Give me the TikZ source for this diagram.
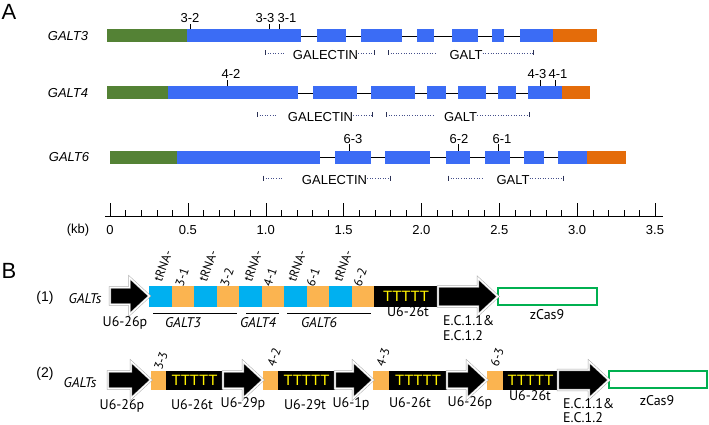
\documentclass[tikz,border=0pt]{standalone}
\usepackage{fontspec}
\setmainfont{Liberation Sans}
\newfontfamily\ptsans{PT Sans}
\usetikzlibrary{calc}

\definecolor{exongreen}{RGB}{84,130,53}
\definecolor{exonblue}{RGB}{59,108,245}
\definecolor{exonorange}{RGB}{228,108,10}
\definecolor{trnacyan}{RGB}{0,176,240}
\definecolor{sgorange}{RGB}{251,180,80}
\definecolor{casgreen}{RGB}{0,176,80}
\definecolor{dotblue}{RGB}{70,80,140}

% block arrow: from, to, half shaft height
\newcommand{\promarrow}[3]{%
  \path[blockarr] let \p1=#1, \p2=#2 in
    ({\x1},{\y1+#3}) -- ({\x2-20pt},{\y1+#3}) -- ({\x2-20pt},{\y1+18.5pt})
    -- ({\x2},{\y1}) -- ({\x2-20pt},{\y1-18.5pt}) -- ({\x2-20pt},{\y1-#3})
    -- ({\x1},{\y1-#3}) -- cycle;}

\begin{document}
\begin{tikzpicture}[x=1pt,y=-1pt,font=\fontsize{13}{15}\selectfont,
  lab/.style={inner sep=0pt},
  gname/.style={inner sep=0pt,font=\fontsize{13}{15}\selectfont\itshape},
  dotline/.style={dotted,dotblue,line width=0.6pt},
  blab/.style={inner sep=0pt,font=\ptsans\fontsize{14}{15}\selectfont},
  bital/.style={inner sep=0pt,font=\ptsans\itshape\fontsize{14}{15}\selectfont},
  rlab/.style={inner sep=0pt,rotate=70,font=\ptsans\fontsize{12.5}{14}\selectfont},
  seg/.style={minimum height=21pt,inner sep=0pt,outer sep=0pt},
  term/.style={fill=black,text=yellow,inner sep=0pt,outer sep=0pt,font=\fontsize{15}{17}\selectfont},
  cas/.style={draw=casgreen,line width=1.5pt,inner sep=0pt,outer sep=0pt},
  blockarr/.style={draw=gray!70,double=white,double distance=1.4pt,line width=0.5pt,fill=black,line join=miter}]
  \useasboundingbox (0,0) rectangle (709,425);

  \node[font=\fontsize{22}{24}\selectfont,inner sep=0pt] (pa) at (9,12) {A};
  \node[font=\fontsize{22}{24}\selectfont,inner sep=0pt] (pb) at (9,271) {B};

  % GALT3
  \node[gname] (n3) at (68,36) {GALT3};
  \draw (301,36) -- (520,36);
  \fill[exongreen] (107,29.5) rectangle (187,42.5);
  \foreach \a/\b in {187/301,317/346,361/402,417/434,452/478,492/504,520/553}
    \fill[exonblue] (\a,29.5) rectangle (\b,42.5);
  \fill[exonorange] (553,29.5) rectangle (597,42.5);
  \foreach \t/\lx/\lab in {190/190/3-2,269/265/3-3,279/287/3-1}
  {
    \draw (\t,29.5) -- (\t,24);
    \node[lab,anchor=base] (l\t) at (\lx,23) {\lab};
  }

  % GALT4
  \node[gname] (n4) at (68,93) {GALT4};
  \draw (298,93) -- (528,93);
  \fill[exongreen] (107,86.5) rectangle (168,99.5);
  \foreach \a/\b in {168/298,313/357,371/415,427/446,458/486,498/516,528/562}
    \fill[exonblue] (\a,86.5) rectangle (\b,99.5);
  \fill[exonorange] (562,86.5) rectangle (590,99.5);
  \foreach \t/\lx/\lab in {227/231/4-2,540/537/4-3,555/558/4-1}
  {
    \draw (\t,86.5) -- (\t,80);
    \node[lab,anchor=base] (l\t) at (\lx,79) {\lab};
  }

  % GALT6
  \node[gname] (n6) at (69,157) {GALT6};
  \draw (320,157) -- (558,157);
  \fill[exongreen] (110,150.5) rectangle (177,163.5);
  \foreach \a/\b in {177/320,335/371,385/430,446/470,485/510,524/544,558/587}
    \fill[exonblue] (\a,150.5) rectangle (\b,163.5);
  \fill[exonorange] (587,150.5) rectangle (626,163.5);
  \foreach \t/\lx/\lab in {349/353/6-3,458/459/6-2,498/502/6-1}
  {
    \draw (\t,150.5) -- (\t,144);
    \node[lab,anchor=base] (l\t) at (\lx,143) {\lab};
  }

  % domain spans
  \foreach \y/\a/\b/\gx/\c/\d/\e/\tx/\f [count=\k] in
    {53/265/285/325.5/374/388/435/466/533,
     115/257/277/320.5/372/386/433/460.5/529,
     178/263/283/334.5/390/448/484/513/563}
  {
    \node[lab] (gal\k) at (\gx,\y+2) {GALECTIN};
    \node[lab] (galt\k) at (\tx,\y+2) {GALT};
    \draw[dotline] (\a,\y) -- (\b,\y);
    \draw[dotline] (gal\k.east |- 0,\y) -- (\c,\y);
    \draw[dotline] (\d,\y) -- (\e,\y);
    \draw[dotline] (galt\k.east |- 0,\y) -- (\f,\y);
    \foreach \z in {\a,\c,\d,\f}
      \draw[dotblue!60!black,line width=0.7pt] (\z,\y-2.5) -- (\z,\y+2.5);
  }

  % kb scale
  \draw (105,216) -- (663,216);
  \foreach \i in {0,...,35}
  {
    \pgfmathsetmacro\h{mod(\i,5)==0 ? 13 : 6}
    \draw ({110+15.571*\i},216) -- ++(0,-\h);
  }
  \node[lab] (kb) at (78,230) {(kb)};
  \foreach \v [count=\k from 0] in {0,0.5,1.0,1.5,2.0,2.5,3.0,3.5}
    \node[lab] (kb\k) at ({110+77.857*\k},230) {\v};

  % construct (1)
  \node[inner sep=0pt,font=\fontsize{14}{16}\selectfont] (c1) at (45,298) {(1)};
  \node[bital] (gs1) at (85,299) {GALTs};
  \coordinate (p1) at (110,296);
  \foreach \i/\c in {0/trnacyan,1/sgorange,2/trnacyan,3/sgorange,4/trnacyan,
                     5/sgorange,6/trnacyan,7/sgorange,8/trnacyan,9/sgorange}
    \node[seg,fill=\c,minimum width=22.45pt] (r\i) at ({160.7+22.45*\i},296.5) {};
  \node[term,minimum width=64pt,minimum height=21pt] (t1) at (406,296.5) {TTTTT};
  \node[cas,minimum width=99pt,minimum height=17pt] (cas1) at (547.5,296.5) {};
  \promarrow{(p1)}{(r0.west)}{8.5pt}
  \promarrow{(t1.east)}{(cas1.west)}{10pt}
  \foreach \x/\nx/\lab [count=\k] in {163/182/3-1,208/227/3-2,253/270/4-1,297/313/6-1,343/360/6-2}
  {
    \node[rlab] (tr\k) at (\x,266) {tRNA-};
    \node[rlab] (tn\k) at (\nx,277) {\lab};
  }
  \node[blab] (lp1) at (125,323) {U6-26p};
  \node[bital] (lg3) at (183,323) {GALT3};
  \node[bital] (lg4) at (258,323) {GALT4};
  \node[bital] (lg6) at (319,323) {GALT6};
  \draw (153,313) -- (237,313);
  \draw (246,313) -- (279,313);
  \draw (287,313) -- (371,313);
  \node[blab] (lt1) at (408,312) {U6-26t};
  \node[blab,align=left,anchor=north west] (ec1) at (443,315) {E.C.1.1\&\\E.C.1.2};
  \node[blab] (lc1) at (547,315) {zCas9};

  % construct (2)
  \node[inner sep=0pt,font=\fontsize{14}{16}\selectfont] (c2) at (45,374) {(2)};
  \node[bital] (gs2) at (80,383) {GALTs};
  \coordinate (p2) at (108,380);
  \foreach \x/\w/\ux/\uw [count=\k] in {158.5/15/194.5/57,270.5/15/306.5/57,381/16/418/58,495/16/530.5/55}
  {
    \node[seg,fill=sgorange,minimum width=\w pt,minimum height=19pt] (o\k) at (\x,380) {};
    \node[term,minimum width=\uw pt,minimum height=19pt] (u\k) at (\ux,380) {TTTTT};
  }
  \node[cas,minimum width=98pt,minimum height=17pt] (cas2) at (658,379.5) {};
  \promarrow{(p2)}{(o1.west)}{8.5pt}
  \promarrow{(u1.east)}{(o2.west)}{8.5pt}
  \promarrow{(u2.east)}{(o3.west)}{8.5pt}
  \promarrow{(u3.east)}{(o4.west)}{8.5pt}
  \promarrow{(u4.east)}{(cas2.west)}{10pt}
  \foreach \x/\y/\lab [count=\k] in {161/361/3-3,274/357/4-2,383/357/4-3,497/357/6-3}
    \node[rlab] (sg\k) at (\x,\y) {\lab};
  \foreach \x/\y/\lab [count=\k] in {122/406/U6-26p,192/405/U6-26t,243/404/U6-29p,305/405/U6-29t,
                                     351/404/U6-1p,410/403/U6-26t,470/403/U6-26p,530/396/U6-26t}
    \node[blab] (lb\k) at (\x,\y) {\lab};
  \node[blab,align=left,anchor=north west,font=\ptsans\fontsize{14}{14}\selectfont] (ec2) at (563,398) {E.C.1.1\&\\E.C.1.2};
  \node[blab] (lc2) at (657,401) {zCas9};
\end{tikzpicture}
\end{document}
